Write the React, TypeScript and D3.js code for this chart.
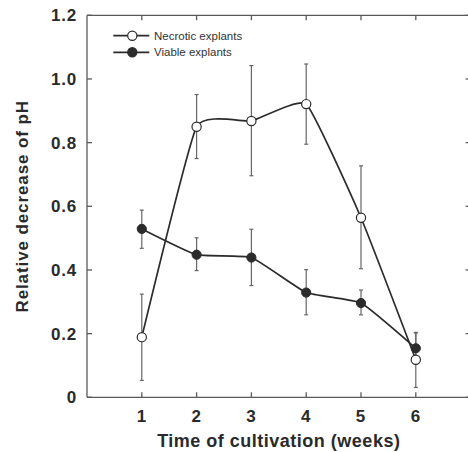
import React from "react";
import * as d3 from "d3";

const weeks = [1, 2, 3, 4, 5, 6];
const necroticMean = [0.189, 0.85, 0.868, 0.921, 0.564, 0.118];
const necroticLow = [0.053, 0.75, 0.696, 0.795, 0.404, 0.031];
const necroticHigh = [0.324, 0.951, 1.042, 1.047, 0.727, 0.204];
const viableMean = [0.529, 0.448, 0.439, 0.329, 0.296, 0.154];
const viableLow = [0.468, 0.398, 0.351, 0.259, 0.259, 0.12];
const viableHigh = [0.588, 0.501, 0.528, 0.401, 0.337, 0.202];
const xTicks = [1, 2, 3, 4, 5, 6];
const yTicks = [0, 0.2, 0.4, 0.6, 0.8, 1.0, 1.2];
const yTickLabels = ["0", "0.2", "0.4", "0.6", "0.8", "1.0", "1.2"];
const legendLabels = ["Necrotic explants", "Viable explants"];

const W = 468;
const H = 452;
const left = 87;
const right = 470.6;
const top = 15.3;
const bottom = 397.3;

export default function App() {
  const x = d3.scaleLinear().domain([0, 7]).range([left, right]);
  const y = d3.scaleLinear().domain([0, 1.2]).range([bottom, top]);
  const line = d3
    .line<number>()
    .x((_, i) => x(weeks[i]))
    .y((d) => y(d))
    .curve(d3.curveCardinal.tension(0.6));

  const axisColor = "#5a5a5a";
  const lineColor = "#2b2b2b";
  const errColor = "#666";
  const tick = 5;
  const font = "'Liberation Sans', Arial, Helvetica, sans-serif";

  const errBars = (lo: number[], hi: number[], key: string) =>
    weeks.map((w, i) => (
      <g key={key + i} stroke={errColor} strokeWidth={1.2}>
        <line x1={x(w)} x2={x(w)} y1={y(lo[i])} y2={y(hi[i])} />
        <line x1={x(w) - 2} x2={x(w) + 2} y1={y(lo[i])} y2={y(lo[i])} />
        <line x1={x(w) - 2} x2={x(w) + 2} y1={y(hi[i])} y2={y(hi[i])} />
      </g>
    ));

  return (
    <svg
      width={W}
      height={H}
      style={{ position: "absolute", left: 0, top: 0, background: "#fff" }}
    >
      <rect x={0} y={0} width={W} height={H} fill="#fff" />
      {/* frame */}
      <g stroke={axisColor} strokeWidth={1.3} fill="none">
        <line x1={left} x2={right} y1={bottom} y2={bottom} />
        <line x1={left} x2={right} y1={top} y2={top} />
        <line x1={left} x2={left} y1={top} y2={bottom} />
        <line x1={right} x2={right} y1={top} y2={bottom} />
        {xTicks.map((t) => (
          <g key={"xt" + t}>
            <line x1={x(t)} x2={x(t)} y1={bottom} y2={bottom - tick} />
            <line x1={x(t)} x2={x(t)} y1={top} y2={top + tick} />
          </g>
        ))}
        {yTicks.map((t) => (
          <g key={"yt" + t}>
            <line x1={left} x2={left + tick} y1={y(t)} y2={y(t)} />
            <line x1={right} x2={right - tick} y1={y(t)} y2={y(t)} />
          </g>
        ))}
      </g>
      {/* tick labels */}
      <g
        fontFamily={font}
        fontWeight="bold"
        fontSize={17}
        fill="#2a2a2a"
        style={{ letterSpacing: "0.8px" }}
      >
        {yTicks.map((t, i) => (
          <text key={"yl" + t} x={77} y={y(t) + 6} textAnchor="end">
            {yTickLabels[i]}
          </text>
        ))}
        {xTicks.map((t) => (
          <text key={"xl" + t} x={x(t)} y={421.5} textAnchor="middle">
            {t}
          </text>
        ))}
      </g>
      {/* axis titles */}
      <text
        x={(left + right) / 2}
        y={447}
        textAnchor="middle"
        fontFamily={font}
        fontWeight="bold"
        fontSize={18}
        fill="#2a2a2a"
        style={{ letterSpacing: "0.5px" }}
      >
        Time of cultivation (weeks)
      </text>
      <text
        transform={`translate(27.5, ${(top + bottom) / 2}) rotate(-90)`}
        textAnchor="middle"
        fontFamily={font}
        fontWeight="bold"
        fontSize={17}
        fill="#2a2a2a"
        style={{ letterSpacing: "0.9px" }}
      >
        Relative decrease of pH
      </text>
      {/* error bars */}
      {errBars(necroticLow, necroticHigh, "ne")}
      {errBars(viableLow, viableHigh, "ve")}
      {/* lines */}
      <path d={line(necroticMean) || ""} fill="none" stroke={lineColor} strokeWidth={1.7} />
      <path d={line(viableMean) || ""} fill="none" stroke={lineColor} strokeWidth={1.7} />
      {/* points */}
      {weeks.map((w, i) => (
        <circle key={"vp" + i} cx={x(w)} cy={y(viableMean[i])} r={4.6} fill={lineColor} stroke={lineColor} strokeWidth={1} />
      ))}
      {weeks.map((w, i) => (
        <circle key={"np" + i} cx={x(w)} cy={y(necroticMean[i])} r={4.6} fill="#fff" stroke={lineColor} strokeWidth={1.2} />
      ))}
      {/* legend */}
      {legendLabels.map((lab, i) => {
        const ly = 35.7 + i * 16.6;
        return (
          <g key={"lg" + i}>
            <line x1={113.3} x2={149.3} y1={ly} y2={ly} stroke={lineColor} strokeWidth={1.7} />
            <circle
              cx={132.3}
              cy={ly}
              r={4.6}
              fill={i === 0 ? "#fff" : lineColor}
              stroke={lineColor}
              strokeWidth={1.2}
            />
            <text
              x={154}
              y={ly + 4}
              fontFamily={font}
              fontSize={11.5}
              fill="#333"
            >
              {lab}
            </text>
          </g>
        );
      })}
    </svg>
  );
}
